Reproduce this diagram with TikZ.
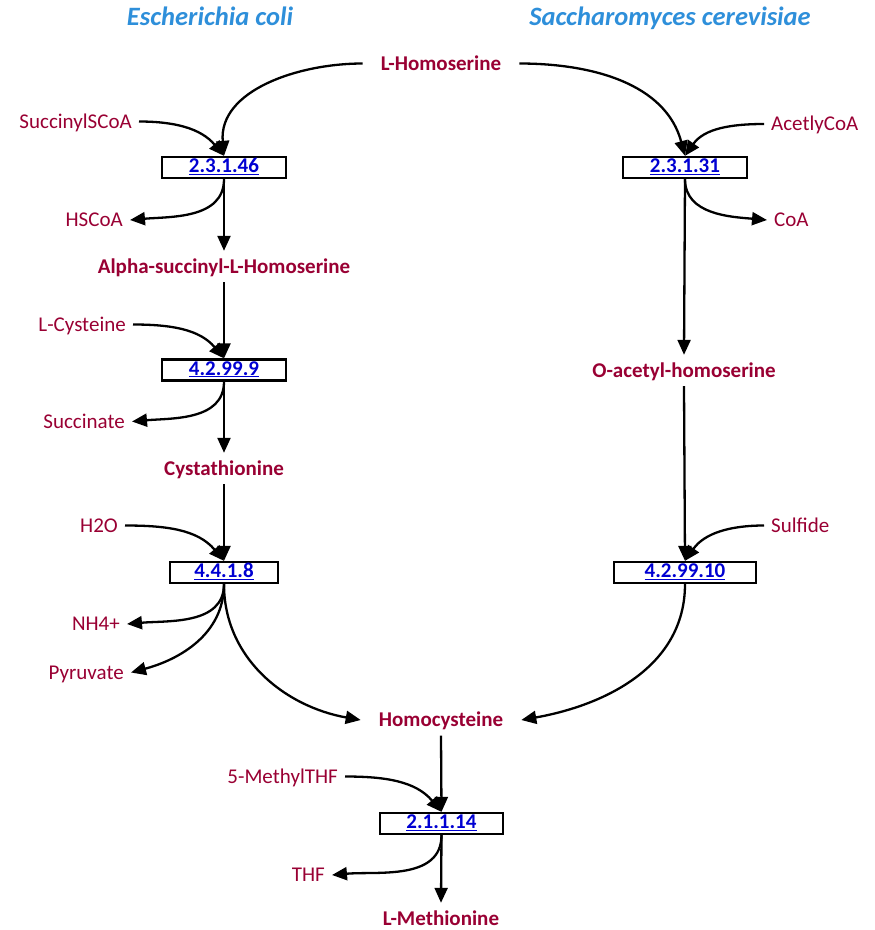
\documentclass[tikz,border=0pt]{standalone}
\usepackage{fontspec}
\setmainfont{Carlito}
\usetikzlibrary{arrows.meta}
\definecolor{metab}{RGB}{153,0,51}
\definecolor{ttl}{RGB}{46,143,218}
\definecolor{ecblue}{RGB}{0,0,210}
\tikzset{
  title/.style={font=\fontsize{26.5}{30}\selectfont\bfseries\itshape, text=ttl, text height=17pt, text depth=0pt, inner sep=0pt},
  mainm/.style={font=\fontsize{21}{24}\selectfont\bfseries, text=metab, text height=13pt, text depth=0pt, inner xsep=18pt, inner ysep=9pt},
  sidem/.style={font=\fontsize{21}{24}\selectfont, text=metab, text height=13pt, text depth=0pt, inner xsep=7pt, inner ysep=3pt},
  enz/.style={draw=black, line width=2.3pt, fill=white, font=\fontsize{21}{24}\selectfont\bfseries, text=ecblue, minimum height=21pt, inner sep=0pt, text height=13pt, text depth=3pt},
  arr/.style={line width=2.3pt, -{Triangle[length=15pt,width=13pt]}},
}
\newcommand{\ec}[1]{\underline{#1}}
\begin{document}
\begin{tikzpicture}[x=1pt,y=1pt]
\useasboundingbox (0,0) rectangle (875,-930);
% titles
\node[title] (t1) at (210,-16.5) {Escherichia coli};
\node[title] (t2) at (670,-16.5) {Saccharomyces cerevisiae};
% main metabolites
\node[mainm] (lhom) at (441,-63.5) {L-Homoserine};
\node[mainm] (alpha) at (224,-266.5) {Alpha-succinyl-L-Homoserine};
\node[mainm] (cysta) at (224,-468.5) {Cystathionine};
\node[mainm] (oac) at (684,-370.5) {O-acetyl-homoserine};
\node[mainm] (hcys) at (441,-720) {Homocysteine};
\node[mainm] (lmet) at (441,-918.5) {L-Methionine};
% enzymes
\node[enz, minimum width=124pt] (e1) at (224,-167.5) {\ec{2.3.1.46}};
\node[enz, minimum width=124pt] (e2) at (685,-167.5) {\ec{2.3.1.31}};
\node[enz, minimum width=124pt] (e3) at (224,-370) {\ec{4.2.99.9}};
\node[enz, minimum width=108pt] (e4) at (224,-572.5) {\ec{4.4.1.8}};
\node[enz, minimum width=142pt] (e5) at (685,-572.5) {\ec{4.2.99.10}};
\node[enz, minimum width=123pt] (e6) at (441.5,-823.5) {\ec{2.1.1.14}};
% side metabolites
\node[sidem, anchor=east] (succ) at (139,-121.5) {SuccinylSCoA};
\node[sidem, anchor=east] (hscoa) at (130,-220) {HSCoA};
\node[sidem, anchor=east] (lcys) at (133,-324.5) {L-Cysteine};
\node[sidem, anchor=east] (sucn) at (132,-421.5) {Succinate};
\node[sidem, anchor=east] (h2o) at (125,-525.5) {H2O};
\node[sidem, anchor=east] (nh4) at (127,-624) {NH4+};
\node[sidem, anchor=east] (pyr) at (131,-672.5) {Pyruvate};
\node[sidem, anchor=east] (mthf) at (345,-776.5) {5-MethylTHF};
\node[sidem, anchor=east] (thf) at (332,-875) {THF};
\node[sidem, anchor=west] (acoa) at (764,-124) {AcetlyCoA};
\node[sidem, anchor=west] (coa) at (767,-220) {CoA};
\node[sidem, anchor=west] (sulf) at (764,-525.5) {Sulfide};
% E. coli branch
\draw[arr] (lhom.west) to[out=180,in=95,looseness=1.0] (e1.north);
\draw[arr] (succ.east) to[out=0,in=130] (e1.north);
\draw[arr] (e1.south) to[out=-90,in=5] (hscoa.east);
\draw[arr] (e1.south) -- (alpha.north);
\draw[arr] (alpha.south) -- (e3.north);
\draw[arr] (lcys.east) to[out=0,in=130] (e3.north);
\draw[arr] (e3.south) to[out=-90,in=5] (sucn.east);
\draw[arr] (e3.south) -- (cysta.north);
\draw[arr] (cysta.south) -- (e4.north);
\draw[arr] (h2o.east) to[out=0,in=130] (e4.north);
\draw[arr] (e4.south) to[out=-90,in=5] (nh4.east);
\draw[arr] (e4.south) to[out=-90,in=15] (pyr.east);
\draw[arr] (e4.south) to[out=-90,in=170] (hcys.west);
% S. cerevisiae branch
\draw[arr] (lhom.east) to[out=0,in=105] (e2.north);
\draw[arr] (acoa.west) to[out=180,in=55] (e2.north);
\draw[arr] (e2.south) to[out=-90,in=175] (coa.west);
\draw[arr] (e2.south) -- (oac.north);
\draw[arr] (oac.south) -- (e5.north);
\draw[arr] (sulf.west) to[out=180,in=55] (e5.north);
\draw[arr] (e5.south) to[out=-90,in=10] (hcys.east);
% final
\draw[arr] (hcys.south) -- (e6.north);
\draw[arr] (mthf.east) to[out=0,in=130] (e6.north);
\draw[arr] (e6.south) to[out=-90,in=5] (thf.east);
\draw[arr] (e6.south) -- (lmet.north);
\end{tikzpicture}
\end{document}
